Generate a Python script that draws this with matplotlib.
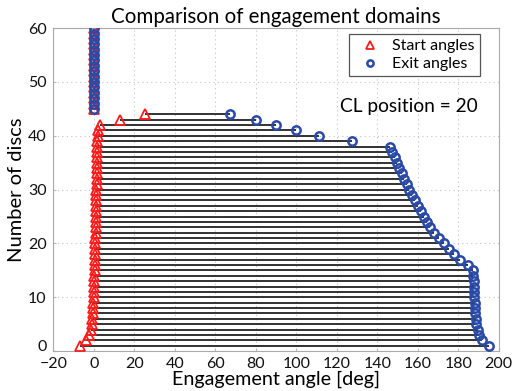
import numpy as np
import matplotlib
matplotlib.use("Agg")
import matplotlib.pyplot as plt
from matplotlib.transforms import ScaledTranslation

plt.rcParams['font.family'] = ['Lato', 'DejaVu Sans']

# Disc numbers 1..60
discs = np.arange(1, 61)

# Start (entry) angle of each disc [deg]
start_angles = [
    -7.0, -4.0, -2.4, -1.6, -1.2, -0.9, -0.7, -0.5, -0.3, -0.2,
    -0.1, 0.0, 0.1, 0.2, 0.3, 0.4, 0.5, 0.5, 0.6, 0.7,
    0.7, 0.8, 0.9, 0.9, 1.0, 1.0, 1.1, 1.1, 1.2, 1.2,
    1.3, 1.3, 1.4, 1.4, 1.5, 1.5, 1.6, 1.6, 1.7, 1.8,
    2.0, 3.0, 13.0, 25.0,
    0, 0, 0, 0, 0, 0, 0, 0, 0, 0, 0, 0, 0, 0, 0, 0,
]

# Exit angle of each disc [deg]
exit_angles = [
    195.0, 191.5, 190.3, 189.5, 189.0, 188.8, 188.5, 188.3, 188.2, 188.0,
    188.0, 187.8, 187.6, 187.5, 187.3, 185.0, 181.0, 178.0, 175.3, 172.8,
    170.3, 168.0, 166.0, 164.5, 163.0, 161.5, 160.0, 158.6, 157.2, 155.8,
    154.5, 153.2, 152.0, 150.8, 149.7, 148.6, 147.5, 146.5, 127.5, 111.0,
    100.0, 90.0, 80.0, 67.0,
    0, 0, 0, 0, 0, 0, 0, 0, 0, 0, 0, 0, 0, 0, 0, 0,
]

x_ticks = list(range(-20, 201, 20))
y_ticks = list(range(0, 61, 10))

fig = plt.figure(figsize=(5.19, 3.91), dpi=100)
ax = fig.add_axes([0.103, 0.102, 0.858, 0.826])

# Engagement spans as horizontal segments
ax.hlines(discs, start_angles, exit_angles, colors='#222222', linewidth=1.3, zorder=2)

ax.plot(start_angles, discs, linestyle='none', marker='^', markersize=7,
        markerfacecolor='none', markeredgecolor='#ff1a1a', markeredgewidth=1.3,
        label='Start angles', zorder=3)
ax.plot(exit_angles, discs, linestyle='none', marker='o', markersize=6,
        markerfacecolor='none', markeredgecolor='#2a4aa8', markeredgewidth=1.8,
        label='Exit angles', zorder=4)

ax.set_xlim(-20, 200)
ax.set_ylim(0, 60)
ax.set_xticks(x_ticks)
ax.set_yticks(y_ticks)
ax.tick_params(direction='in', length=2, colors='#bbbbbb', labelcolor='#111111',
               labelsize=11.5)
ax.tick_params(axis='y', pad=5)
ax.tick_params(axis='x', pad=4.5)
ax.grid(True, linestyle=(0, (1, 3)), color='#c4c4c4', linewidth=0.8)
ax.set_axisbelow(True)
for sp in ax.spines.values():
    sp.set_color('#aaaaaa')
    sp.set_linewidth(0.8)

# lift the lowest y tick label slightly so it clears the "-20" below it
ylab0 = ax.get_yticklabels()[0]
ylab0.set_transform(ylab0.get_transform() +
                    ScaledTranslation(0, 4 / 72, fig.dpi_scale_trans))

ax.set_title('Comparison of engagement domains', fontsize=14.8, pad=4)
ax.set_xlabel('Engagement angle [deg]', fontsize=14.2, labelpad=-0.5)
ax.set_ylabel('Number of discs', fontsize=14.5, labelpad=2)

ax.text(121.5, 45.4, 'CL position = 20', fontsize=13.8, va='center', ha='left')

leg = ax.legend(loc='upper right', bbox_to_anchor=(0.957, 0.981),
                fontsize=11.5, fancybox=False, framealpha=1,
                edgecolor='#555555', borderpad=0.3, handletextpad=0.4,
                labelspacing=0.25, handlelength=2.0, borderaxespad=0,
                markerscale=0.75)
leg.get_frame().set_linewidth(0.9)

fig.savefig('out.png', dpi=100)
